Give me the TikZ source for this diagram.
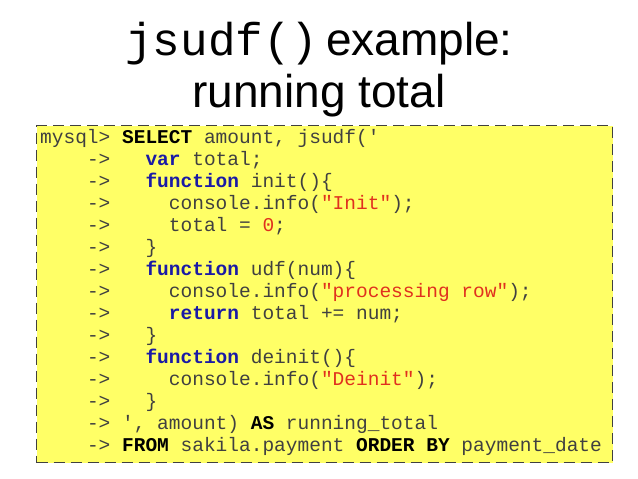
\documentclass[tikz,border=0pt]{standalone}
\usepackage{fontspec}
\setmainfont{Liberation Sans}
\setmonofont{Liberation Mono}
\definecolor{codebg}{HTML}{FFFF66}
\definecolor{codetx}{HTML}{404040}
\definecolor{kw}{HTML}{1A1AA6}
\definecolor{st}{HTML}{E0301E}
\newcommand{\K}[1]{\textbf{\textcolor{kw}{#1}}}
\newcommand{\Sq}[1]{\textbf{\textcolor{black}{#1}}}
\newcommand{\Str}[1]{\textcolor{st}{#1}}
\tikzset{codeline/.style={anchor=base west,inner sep=0pt,font=\fontsize{19.5}{19.5}\ttfamily,text=codetx},
title/.style={font=\fontsize{46}{46}\selectfont,inner sep=0pt,anchor=base}}
\begin{document}
\begin{tikzpicture}[x=1pt,y=-1pt]
\useasboundingbox (0,0) rectangle (638,479);
\node[title] (t1) at (319,55) {\texttt{jsudf()}\,example:};
\node[title] (t2) at (319,107) {running total};
\node[draw=black!75,line width=1.3pt,dash pattern=on 11pt off 6pt,fill=codebg,minimum width=576,minimum height=337,anchor=north west,inner sep=0pt] (box) at (36,125) {};
\foreach \i/\t in {
0/{mysql>~\Sq{SELECT}~amount,~jsudf('},
1/{~~~~->~~~\K{var}~total;},
2/{~~~~->~~~\K{function}~init()\{},
3/{~~~~->~~~~~console.info(\Str{"Init"});},
4/{~~~~->~~~~~total~=~\Str{0};},
5/{~~~~->~~~\}},
6/{~~~~->~~~\K{function}~udf(num)\{},
7/{~~~~->~~~~~console.info(\Str{"processing~row"});},
8/{~~~~->~~~~~\K{return}~total~+=~num;},
9/{~~~~->~~~\}},
10/{~~~~->~~~\K{function}~deinit()\{},
11/{~~~~->~~~~~console.info(\Str{"Deinit"});},
12/{~~~~->~~~\}},
13/{~~~~->~',~amount)~\Sq{AS}~running\_total},
14/{~~~~->~\Sq{FROM}~sakila.payment~\Sq{ORDER~BY}~payment\_date}}
{\node[codeline] (l\i) at (40,{143+22*\i}) {\t};}
\end{tikzpicture}
\end{document}
